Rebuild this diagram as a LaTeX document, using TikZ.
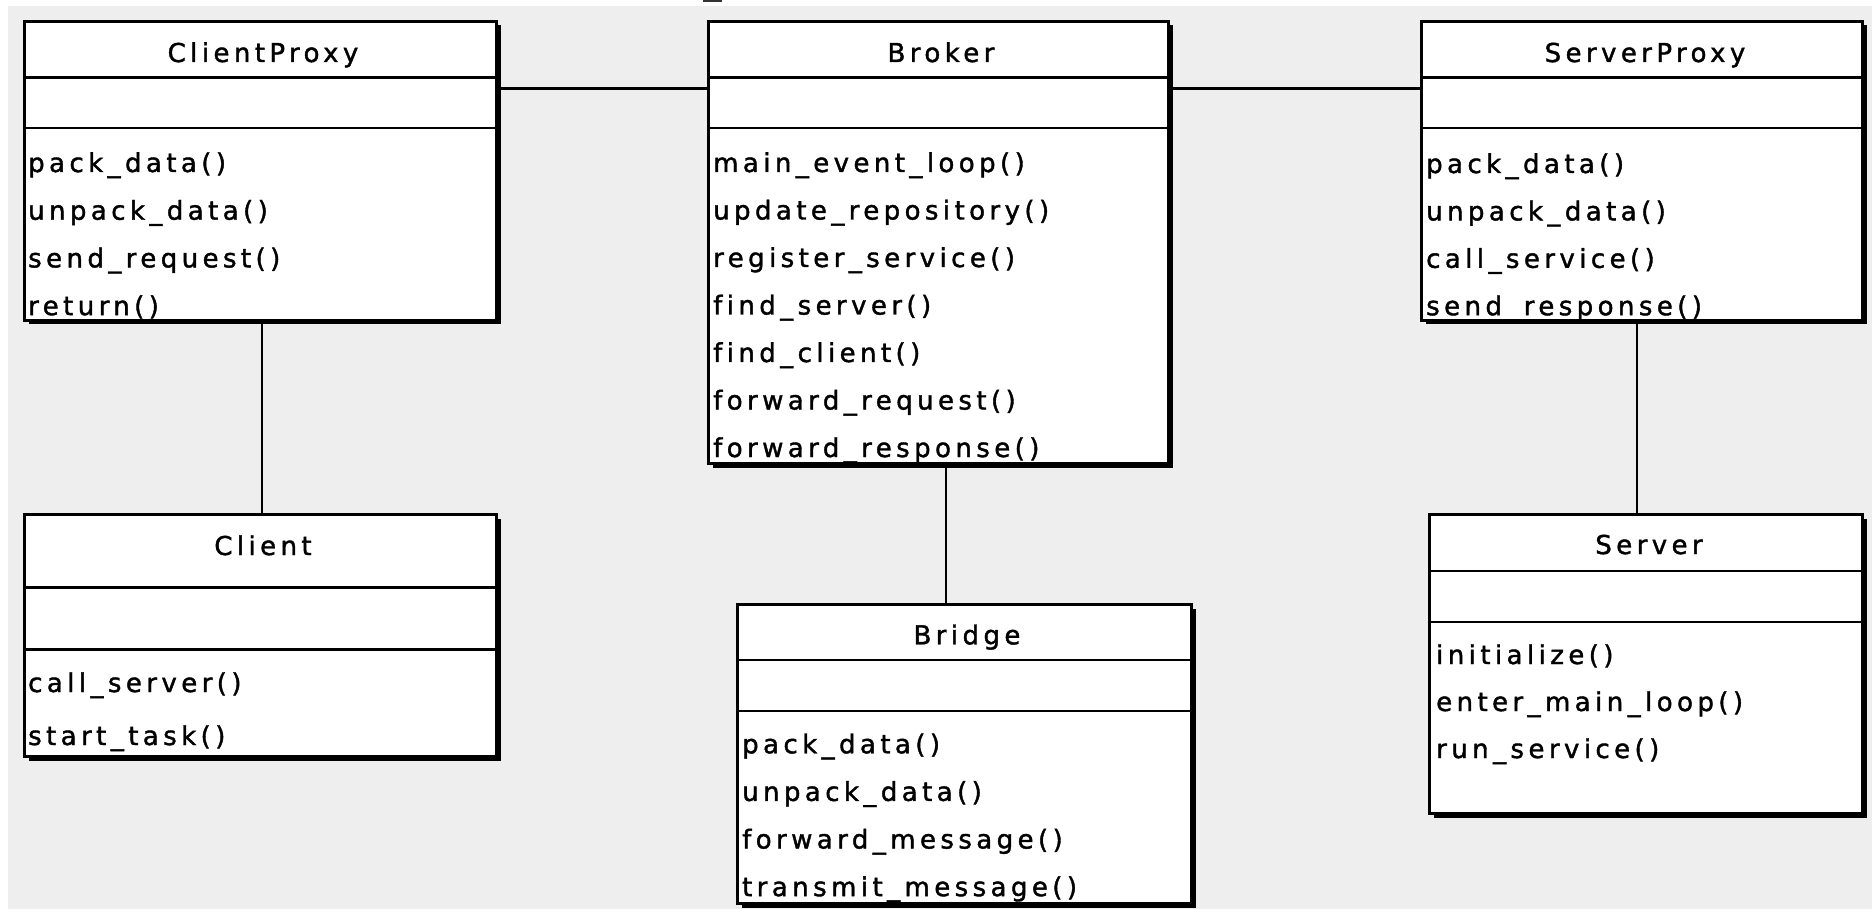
\documentclass[tikz,border=0pt]{standalone}
\usepackage{fontspec}
\setmainfont{DejaVu Sans}[LetterSpace=17, Ligatures={NoCommon}, FakeBold=1.5]
\usetikzlibrary{shadows}
\definecolor{bgray}{HTML}{EEEEEE}
\tikzset{
  umlbox/.style={draw=black, line width=3pt, fill=white, inner sep=0pt, outer sep=0pt,
    anchor=north west,
    drop shadow={shadow xshift=4pt, shadow yshift=-4pt, fill=black, opacity=1}},
  sepline/.style={line width=2.7pt},
  link/.style={line width=2.7pt},
  title/.style={anchor=base, inner sep=0pt, font=\fontsize{26}{30}\selectfont},
  meth/.style={anchor=base west, inner sep=0pt, font=\fontsize{26}{30}\selectfont},
}
\begin{document}
\begin{tikzpicture}[x=1pt, y=-1pt]
\useasboundingbox (0,0) rectangle (1872,909);
\fill[white] (0,0) rectangle (1872,909);
\fill[bgray] (8,6) rectangle (1872,909);
\fill[black!80] (703,0) rectangle (722,2);

% boxes
\node[umlbox, minimum width=472pt, minimum height=299pt] (cp) at (24.5,21.5) {};
\node[umlbox, minimum width=460pt, minimum height=442pt] (br) at (708.5,21.5) {};
\node[umlbox, minimum width=441pt, minimum height=299pt] (sp) at (1421.5,21.5) {};
\node[umlbox, minimum width=472pt, minimum height=242pt] (cl) at (24.5,514.5) {};
\node[umlbox, minimum width=454pt, minimum height=299pt] (bg) at (737.5,604.5) {};
\node[umlbox, minimum width=433pt, minimum height=299pt] (sv) at (1429.5,514.5) {};

% compartment separators
\draw[sepline] ([yshift=-55.8pt]cp.north west) -- ([yshift=-55.8pt]cp.north east);
\draw[sepline] ([yshift=-106.5pt]cp.north west) -- ([yshift=-106.5pt]cp.north east);
\draw[sepline] ([yshift=-55.8pt]br.north west) -- ([yshift=-55.8pt]br.north east);
\draw[sepline] ([yshift=-106.5pt]br.north west) -- ([yshift=-106.5pt]br.north east);
\draw[sepline] ([yshift=-55.8pt]sp.north west) -- ([yshift=-55.8pt]sp.north east);
\draw[sepline] ([yshift=-106.5pt]sp.north west) -- ([yshift=-106.5pt]sp.north east);
\draw[sepline] ([yshift=-72.8pt]cl.north west) -- ([yshift=-72.8pt]cl.north east);
\draw[sepline] ([yshift=-134.8pt]cl.north west) -- ([yshift=-134.8pt]cl.north east);
\draw[sepline] ([yshift=-55.5pt]bg.north west) -- ([yshift=-55.5pt]bg.north east);
\draw[sepline] ([yshift=-106.5pt]bg.north west) -- ([yshift=-106.5pt]bg.north east);
\draw[sepline] ([yshift=-56.5pt]sv.north west) -- ([yshift=-56.5pt]sv.north east);
\draw[sepline] ([yshift=-107.5pt]sv.north west) -- ([yshift=-107.5pt]sv.north east);

% titles
\node[title] (cp-t) at (263,62) {ClientProxy};
\node[title] (br-t) at (941,62) {Broker};
\node[title] (sp-t) at (1645,62) {ServerProxy};
\node[title] (cl-t) at (263,555) {Client};
\node[title] (bg-t) at (967,644.3) {Bridge};
\node[title] (sv-t) at (1649,554) {Server};

% operations
\foreach \t [count=\i] in {pack\_data(), unpack\_data(), send\_request(), return()}
  \node[meth] (cp-m\i) at (28,{172+47.7*(\i-1)}) {\t};
\foreach \t [count=\i] in {main\_event\_loop(), update\_repository(), register\_service(),
    find\_server(), find\_client(), forward\_request(), forward\_response()}
  \node[meth] (br-m\i) at (713,{172+47.5*(\i-1)}) {\t};
\foreach \t [count=\i] in {pack\_data(), unpack\_data(), call\_service(), send\_response()}
  \node[meth] (sp-m\i) at (1426,{173+47.4*(\i-1)}) {\t};
\foreach \t [count=\i] in {call\_server(), start\_task()}
  \node[meth] (cl-m\i) at (28,{692+53*(\i-1)}) {\t};
\foreach \t [count=\i] in {pack\_data(), unpack\_data(), forward\_message(), transmit\_message()}
  \node[meth] (bg-m\i) at (742,{753.3+47.6*(\i-1)}) {\t};
\foreach \t [count=\i] in {initialize(), enter\_main\_loop(), run\_service()}
  \node[meth] (sv-m\i) at (1436,{664+47*(\i-1)}) {\t};

% associations
\coordinate (cpr) at ([yshift=-67.2pt]cp.north east);
\coordinate (brr) at ([yshift=-67.2pt]br.north east);
\coordinate (cpb) at ([xshift=237.5pt]cp.south west);
\coordinate (brb) at ([xshift=237.5pt]br.south west);
\coordinate (spb) at ([xshift=215.5pt]sp.south west);
\draw[link] (cpr) -- (cpr -| br.west);
\draw[link] (brr) -- (brr -| sp.west);
\draw[link] (cpb) -- (cpb |- cl.north);
\draw[link] (brb) -- (brb |- bg.north);
\draw[link] (spb) -- (spb |- sv.north);
\end{tikzpicture}
\end{document}
